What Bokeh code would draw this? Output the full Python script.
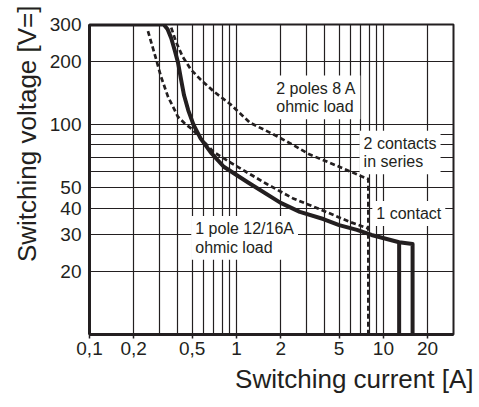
from bokeh.plotting import figure
from bokeh.models import FixedTicker, Label, Title
from bokeh.embed import file_html
from bokeh.resources import INLINE

# ---- data ----
# solid curve: 1 pole 12/16 A ohmic load
solid_i = [0.1, 0.32, 0.34, 0.36, 0.38, 0.40, 0.42, 0.44, 0.47, 0.51, 0.57, 0.67, 0.82, 1.2, 2.0, 2.7, 3.9, 5.0, 6.6, 8.3, 12.8, 15.8, 15.8]
solid_v = [300, 300, 285, 258, 226, 198, 164, 138, 117, 100, 86, 73.5, 63, 53, 42.4, 38.4, 35.5, 33.2, 31.5, 29.8, 27.5, 27, 10]
branch_i = [12.8, 12.8]
branch_v = [27.5, 10]

# dashed: 1 contact
one_i = [0.25, 0.284, 0.306, 0.342, 0.40, 0.44, 0.50, 0.70, 0.91, 1.19, 1.62, 2.43, 3.87, 5.9, 7.9]
one_v = [279, 205, 170, 136, 109, 102, 95, 74, 66, 59, 52, 44.5, 39, 34.4, 32]

# dashed: 2 contacts in series (2 poles 8 A ohmic load)
two_i = [0.36, 0.387, 0.43, 0.49, 0.57, 0.70, 0.91, 1.24, 1.78, 2.43, 3.16, 5.0, 7.4, 7.9, 7.9]
two_v = [290, 249, 211, 183, 164, 144, 125, 102, 90, 80, 72, 63, 56, 55, 10]

x_ticks = [0.1, 0.2, 0.5, 1, 2, 5, 10, 20]
x_tick_labels = ["0,1", "0,2", "0,5", "1", "2", "5", "10", "20"]
y_ticks = [20, 30, 40, 50, 100, 200, 300]
y_tick_labels = ["20", "30", "40", "50", "100", "200", "300"]
x_grid = [0.2, 0.3, 0.4, 0.5, 0.6, 0.7, 0.8, 0.9, 1, 2, 3, 4, 5, 6, 7, 8, 9, 10, 20]
y_grid = [20, 30, 40, 50, 60, 70, 80, 90, 100, 200]

INK = "#231f20"
FONT = "Liberation Sans"

p = figure(width=478, height=400, x_axis_type="log", y_axis_type="log",
           x_range=(0.1, 30), y_range=(10, 300),
           output_backend="svg", toolbar_location=None,
           min_border_left=89, min_border_right=25, min_border_top=24, min_border_bottom=66)
p.background_fill_color = "white"
p.border_fill_color = "white"
p.outline_line_color = INK
p.outline_line_width = 2

# grid
p.xgrid.ticker = FixedTicker(ticks=x_grid)
p.ygrid.ticker = FixedTicker(ticks=y_grid)
for g in (p.xgrid, p.ygrid):
    g.grid_line_color = INK
    g.grid_line_width = 1.2
    g.grid_line_alpha = 1.0

# axes
p.xaxis.ticker = FixedTicker(ticks=x_ticks)
p.xaxis.major_label_overrides = dict(zip(x_ticks, x_tick_labels))
p.yaxis.ticker = FixedTicker(ticks=y_ticks)
p.yaxis.major_label_overrides = dict(zip(y_ticks, y_tick_labels))
for ax in (p.xaxis, p.yaxis):
    ax.axis_line_color = INK
    ax.axis_line_width = 3
    ax.major_tick_line_color = INK
    ax.major_tick_line_width = 1.5
    ax.minor_tick_line_color = None
    ax.major_tick_in = 0
    ax.major_label_text_font = FONT
    ax.major_label_text_font_size = "19px"
    ax.major_label_text_color = INK
p.xaxis.major_tick_out = 4
p.xaxis.major_label_standoff = 3
p.yaxis.major_tick_out = 0
p.yaxis.major_label_standoff = 8

# curves
p.line(solid_i, solid_v, line_color=INK, line_width=4, line_join="round")
p.line(branch_i, branch_v, line_color=INK, line_width=4)
p.line(one_i, one_v, line_color=INK, line_width=2.7, line_dash="5 3")
p.line(two_i, two_v, line_color=INK, line_width=2.7, line_dash="5 3")

# annotations with white boxes
def note(x, y, txt):
    p.add_layout(Label(x=x, y=y, text=txt, text_font=FONT, text_font_size="16px",
                       text_color=INK, text_align="left", text_baseline="top",
                       text_line_height=1.1,
                       background_fill_color="white", background_fill_alpha=1.0,
                       padding=4))

note(1.753, 171.4, "2 poles 8 A\nohmic load")
note(6.89, 93.6, "2 contacts\nin series")
note(8.41, 43.3, "1 contact")
note(0.4925, 36.7, "1 pole 12/16A\nohmic load")

# axis titles
p.add_layout(Title(text="Switching current [A]", align="right", offset=-20, standoff=8,
                   text_font=FONT, text_font_size="26px", text_font_style="normal",
                   text_color=INK), "below")
p.add_layout(Title(text="Switching voltage [V=]", align="right", offset=-19, standoff=8,
                   vertical_align="middle",
                   text_font=FONT, text_font_size="26px", text_font_style="normal",
                   text_color=INK), "left")

open("out.html", "w").write(file_html(p, INLINE))
